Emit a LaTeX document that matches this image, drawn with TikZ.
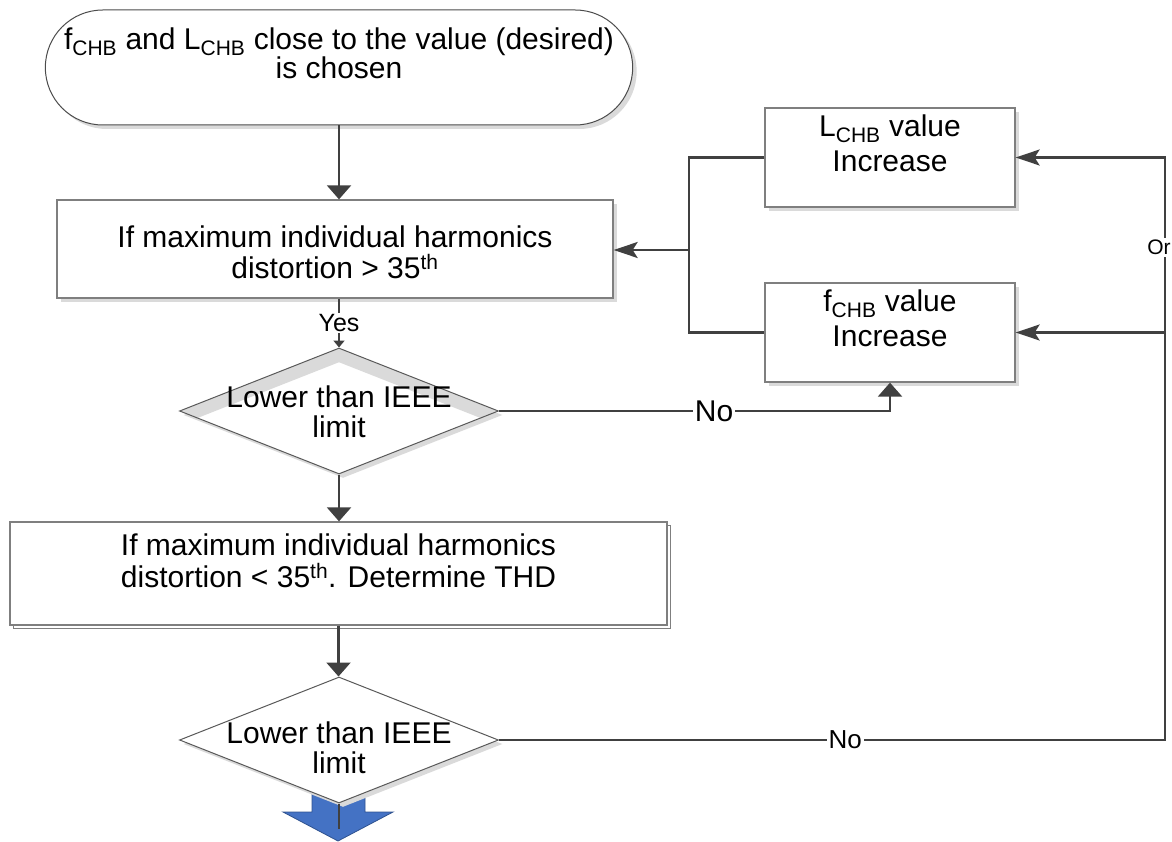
\documentclass[tikz,border=0pt]{standalone}
\usepackage{fontspec}
\setmainfont{Liberation Sans}
\usetikzlibrary{arrows.meta}
\usetikzlibrary{shapes.geometric,shapes.misc}
\usetikzlibrary{shadows}

\definecolor{linegray}{HTML}{404040}
\definecolor{framegray}{HTML}{7F7F7F}
\definecolor{shadegray}{HTML}{DADADA}
\definecolor{blockblue}{HTML}{4472C4}
\definecolor{blockedge}{HTML}{2F528F}

\tikzset{
  txt/.style={font=\fontsize{30}{32}\selectfont},
  toptxt/.style={txt, align=center, inner sep=0pt, anchor=north, yshift=#1},
  sidetxt/.style={font=\fontsize{30}{35}\selectfont},
  diatxt/.style={font=\fontsize{30}{30}\selectfont, align=center, inner sep=0pt},
  shadowed/.style={drop shadow={shadow xshift=4pt, shadow yshift=-4pt, fill=shadegray, opacity=1}},
  box/.style={draw=framegray, line width=1.3pt, fill=white, inner sep=0pt, txt, align=center},
  dia/.style={diamond, draw=framegray!70!black, line width=1pt, fill=white, inner sep=0pt,
    minimum width=319pt, minimum height=126pt, shadowed},
  conn/.style={draw=linegray, line width=2.2pt},
  arr/.style={conn, -{Triangle[length=14pt,width=24pt]}},
  arrh/.style={conn, -{Stealth[length=24pt,width=16pt,inset=5pt]}},
}

\begin{document}
\begin{tikzpicture}[x=1pt, y=-1pt]
\useasboundingbox (0,0) rectangle (1172,842);

\node[rounded rectangle, draw=framegray!60!black, line width=1pt, fill=white, shadowed,
  minimum width=594pt, minimum height=115pt,
  label={[toptxt=-18pt, font=\fontsize{30}{24}\selectfont]north:{f\textsubscript{CHB} and L\textsubscript{CHB} close to the value (desired)\\is chosen}}]
  (start) at (339,67.5) {};

\node[box, shadowed, minimum width=556pt, minimum height=98pt,
  label={[toptxt=-26pt, font=\fontsize{30}{31}\selectfont]north:{If maximum individual harmonics\\distortion > 35\textsuperscript{th}}}]
  (chk1) at (335,249) {};

\node[dia, path picture={
    \fill[shadegray] (path picture bounding box.north) -- (path picture bounding box.east)
      -- ([yshift=-14pt]path picture bounding box.east) -- ([yshift=-14pt]path picture bounding box.north)
      -- ([yshift=-14pt]path picture bounding box.west) -- (path picture bounding box.west) -- cycle;},
  label={[diatxt, yshift=-1pt]center:Lower than IEEE\\limit}] (dec1) at (339,411) {};

\node[box, general shadow={shadow xshift=3pt, shadow yshift=-3pt, draw=framegray, fill=white, line width=1pt},
  minimum width=657pt, minimum height=103pt,
  label={[toptxt=-12pt]north:{If maximum individual harmonics\\distortion < 35\textsuperscript{th}. Determine THD}}]
  (chk2) at (338.5,573.5) {};

% blue exit arrow, partly hidden behind the last test
\fill[blockblue, draw=blockedge, line width=0.8pt] (312,788) -- (365,788) -- (365,812) -- (393,812)
  -- (338,841) -- (283,812) -- (312,812) -- cycle;

\node[dia, label={[diatxt, yshift=-8pt]center:Lower than IEEE\\limit}] (dec2) at (339,740) {};

\node[box, shadowed, minimum width=250pt, minimum height=99pt,
  label={[toptxt=-7pt, sidetxt]north:{L\textsubscript{CHB} value\\Increase}}]
  (incL) at (890,157.5) {};
\node[box, shadowed, minimum width=250pt, minimum height=99pt,
  label={[toptxt=-7pt, sidetxt]north:{f\textsubscript{CHB} value\\Increase}}]
  (incF) at (890,332.5) {};

\coordinate (fork) at (689,250);
\coordinate (loop) at (1165,740);
\coordinate (out) at (339,829);

\foreach \a/\b in {start/chk1, dec1/chk2, chk2/dec2}
  \draw[arr] (\a.south) -- (\a.south |- \b.north);

\draw[conn, -{Triangle[length=7pt,width=11pt]}] (dec1.north |- chk1.south)
  -- node[fill=white, font=\fontsize{25}{25}\selectfont, inner sep=1pt] (yes) {Yes} (dec1.north);

\draw[arr] (dec1.east) -- node[fill=white, txt, pos=0.55, inner sep=2pt] (no1) {No}
  (dec1.east -| incF.south) -- (incF.south);

\draw[conn] (incL.west) -| (fork) |- (incF.west);
\draw[arrh] (fork) -- (fork -| chk1.east);

\draw[arrh] (dec2.east) -- node[fill=white, font=\fontsize{26}{26}\selectfont, pos=0.52, inner sep=2pt] (no2) {No}
  (loop) -- node[fill=white, font=\fontsize{21}{21}\selectfont, pos=0.846, inner sep=2pt, xshift=-6pt] (or) {Or}
  (loop |- incL.east) -- (incL.east);
\draw[arrh] (loop |- incF.east) -- (incF.east);

\draw[conn, line width=1.5pt] (dec2.south) -- (out);
\end{tikzpicture}
\end{document}
